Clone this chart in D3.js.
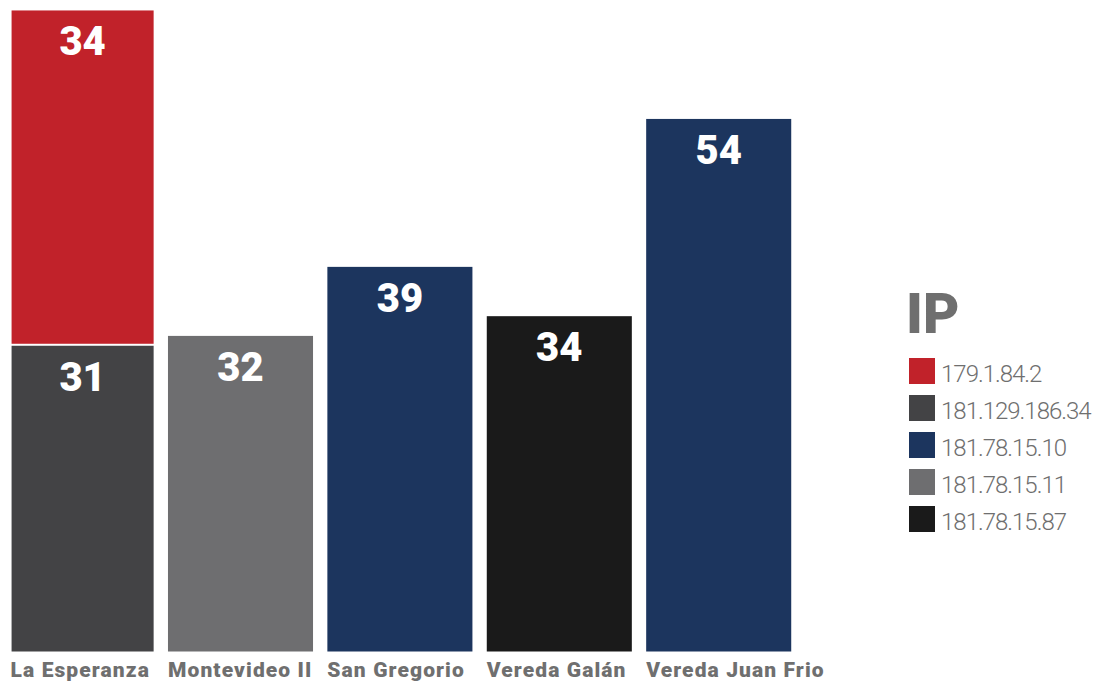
<!DOCTYPE html>
<html>
<head>
<meta charset="utf-8">
<script src="https://cdn.jsdelivr.net/npm/d3@7"></script>
<style>
  html, body { margin: 0; padding: 0; background: #ffffff; }
  svg { display: block; }
</style>
</head>
<body>
<svg id="chart" width="1099" height="687"></svg>
<script>
// ---- data ----
const categories = ["La Esperanza", "Montevideo II", "San Gregorio", "Vereda Galán", "Vereda Juan Frio"];
const legendKeys = ["179.1.84.2", "181.129.186.34", "181.78.15.10", "181.78.15.11", "181.78.15.87"];
const stackKeys = ["181.129.186.34", "179.1.84.2", "181.78.15.10", "181.78.15.11", "181.78.15.87"];
const values_179_1_84_2     = [34, 0, 0, 0, 0];
const values_181_129_186_34 = [31, 0, 0, 0, 0];
const values_181_78_15_10   = [0, 0, 39, 0, 54];
const values_181_78_15_11   = [0, 32, 0, 0, 0];
const values_181_78_15_87   = [0, 0, 0, 34, 0];
const seriesColors = ["#c1222a", "#434345", "#1c355e", "#6e6e70", "#1a1a1a"];

const seriesValues = {
  "179.1.84.2": values_179_1_84_2,
  "181.129.186.34": values_181_129_186_34,
  "181.78.15.10": values_181_78_15_10,
  "181.78.15.11": values_181_78_15_11,
  "181.78.15.87": values_181_78_15_87
};
const table = categories.map((c, i) => {
  const row = { category: c };
  legendKeys.forEach(k => row[k] = seriesValues[k][i]);
  return row;
});

const svg = d3.select("#chart");
const color = d3.scaleOrdinal().domain(legendKeys).range(seriesColors);

const x = d3.scaleBand().domain(categories).range([1.4, 798.4])
  .paddingInner(0.09).paddingOuter(0.045);
const y = d3.scaleLinear().domain([0, 66.06]).range([651.5, 0]);

const stacked = d3.stack().keys(stackKeys)(table);

const font = "Roboto, 'Noto Sans', sans-serif";
const gap = 2;

const layers = svg.append("g").selectAll("g").data(stacked).join("g")
  .attr("fill", d => color(d.key));

layers.selectAll("rect")
  .data(d => d.filter(s => s[1] - s[0] > 0).map(s => ({ s, key: d.key })))
  .join("rect")
  .attr("x", d => x(d.s.data.category) + (d.s.data.category === categories[0] ? 3 : 0))
  .attr("width", d => x.bandwidth() - (d.s.data.category === categories[0] ? 3 : 0))
  .attr("y", d => y(d.s[1]))
  .attr("height", d => y(d.s[0]) - y(d.s[1]) - (d.s[0] > 0 ? gap : 0));

// value labels
const labels = [];
stacked.forEach(layer => layer.forEach(s => {
  if (s[1] - s[0] > 0) labels.push({ cat: s.data.category, v: s[1] - s[0], top: s[1] });
}));
svg.append("g").selectAll("text").data(labels).join("text")
  .attr("x", d => x(d.cat) + x.bandwidth() / 2 + (d.cat === categories[0] ? 1.5 : 0))
  .attr("y", d => y(d.top) + 45)
  .attr("text-anchor", "middle")
  .attr("fill", "#ffffff")
  .attr("font-family", font)
  .attr("font-weight", 900)
  .attr("font-size", 40)
  .text(d => d.v);

// category axis labels
svg.append("g").selectAll("text").data(categories).join("text")
  .attr("x", (d, i) => x(d) + (i === 0 ? 2 : 0))
  .attr("y", 677)
  .attr("fill", "#6f6f6f")
  .attr("font-family", font)
  .attr("font-weight", 900)
  .attr("font-size", 21)
  .attr("letter-spacing", 1.1)
  .text(d => d);

// legend
const lg = svg.append("g").attr("transform", "translate(909,0)");
lg.append("text")
  .attr("x", -3).attr("y", 333)
  .attr("fill", "#6f6f6f")
  .attr("font-family", font)
  .attr("font-weight", 900)
  .attr("font-size", 56)
  .text("IP");
const items = lg.selectAll("g.item").data(legendKeys).join("g")
  .attr("class", "item")
  .attr("transform", (d, i) => `translate(0,${358 + i * 37})`);
items.append("rect").attr("width", 26).attr("height", 26).attr("fill", d => color(d));
items.append("text")
  .attr("x", 32).attr("y", 24)
  .attr("fill", "#6f6f6f")
  .attr("font-family", font)
  .attr("font-weight", 300)
  .attr("font-size", 24)
  .attr("letter-spacing", -1.0)
  .text(d => d);
</script>
</body>
</html>
